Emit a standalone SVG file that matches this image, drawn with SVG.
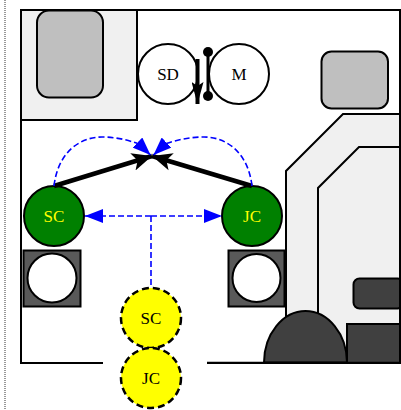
<svg xmlns="http://www.w3.org/2000/svg" width="401" height="410" viewBox="0 0 401 410">
<style>
text{font-family:"Liberation Serif","Times New Roman",serif;font-size:17px;text-anchor:middle}
.o{fill:none;stroke:#000;stroke-width:2}
.b{fill:#f0f0f0;stroke:#000;stroke-width:2}
.g{fill:#bfbfbf;stroke:#000;stroke-width:2}
.d{fill:#404040;stroke:#000;stroke-width:2}
.s{fill:#595959;stroke:#000;stroke-width:2}
.w{fill:#fff;stroke:#000;stroke-width:2}
.gr{fill:#008000;stroke:#000;stroke-width:2}
.y{fill:#ff0;stroke:#000;stroke-width:2.5;stroke-dasharray:7 4}
.bl{fill:none;stroke:#00f;stroke-width:1.6;stroke-dasharray:6 3}
.k{fill:none;stroke:#000;stroke-width:4.500}
</style>
<defs>
<marker id="ab" viewBox="0 0 18 14" refX="18" refY="7" markerWidth="18" markerHeight="14" markerUnits="userSpaceOnUse" orient="auto"><path d="M0 0L18 7L0 14Z" fill="#00f"/></marker>
<marker id="ak" viewBox="0 0 20 20" refX="20" refY="10" markerWidth="20" markerHeight="20" markerUnits="userSpaceOnUse" orient="auto"><path d="M0 1L20 10L0 19L5 10Z" fill="#000"/></marker>
<marker id="an" viewBox="0 0 22 12" refX="22" refY="6" markerWidth="22" markerHeight="12" markerUnits="userSpaceOnUse" orient="auto"><path d="M0 0L22 6L0 12L4 6Z" fill="#000"/></marker>
</defs>
<line x1="5" y1="0" x2="5" y2="410" stroke="#333" stroke-width="1" stroke-dasharray="1 1"/>
<g id="room">
<path class="o" d="M103 363H21V10H400V363H207"/>
</g>
<g id="cabinet-top-left">
<rect class="b" x="21" y="10" width="116" height="110"/>
<rect class="g" x="37" y="10.500" width="66" height="87" rx="12"/>
</g>
<g id="cabinet-right"><rect class="g" x="321.500" y="51.500" width="66.500" height="57" rx="10"/></g>
<g id="wall-right">
<path class="b" d="M400 114H343L286 171V363H400Z"/>
<path class="b" d="M400 147H359L318 188V363H400Z"/>
<rect class="d" x="353.500" y="278.500" width="50" height="30" rx="6"/>
<path fill="#404040" d="M347 324H400V363H347Z"/>
<path class="o" d="M347 363V324H400"/>
<path class="d" d="M264 362.500C264 334 283 311 305.500 311S347 334 347 362.500Z"/>
<path class="o" d="M207 362.800H400M400 10V363"/>
</g>
<g id="node-sd"><circle class="w" cx="168" cy="74" r="30"/><text x="168" y="80">SD</text></g>
<g id="node-m"><circle class="w" cx="239" cy="74" r="30"/><text x="239" y="80">M</text></g>
<g id="sq-left"><rect class="s" x="23.500" y="250.500" width="57" height="56"/><circle class="w" cx="52" cy="278" r="24.500"/></g>
<g id="sq-right"><rect class="s" x="228.500" y="250.500" width="56" height="56"/><circle class="w" cx="256.500" cy="278" r="24"/></g>
<g id="node-sc-green"><circle class="gr" cx="54" cy="216" r="30"/><text x="54" y="222" fill="#ff0">SC</text></g>
<g id="node-jc-green"><circle class="gr" cx="252" cy="216" r="30"/><text x="252" y="222" fill="#ff0">JC</text></g>
<g id="node-sc-yellow"><circle class="y" cx="151" cy="318" r="30"/><text x="151" y="324">SC</text></g>
<g id="node-jc-yellow"><circle class="y" cx="151" cy="378" r="30"/><text x="151" y="384">JC</text></g>
<g id="connectors">
<path class="k" d="M54 186L152 156" marker-end="url(#ak)"/>
<path class="k" d="M252 186L152 156" marker-end="url(#ak)"/>
<path class="bl" d="M54 186C58 152 80 137 102 137C116 137 128 140 139 144L150.500 155" marker-end="url(#ab)"/>
<path class="bl" d="M252 186C248 152 226 137 204 137C190 137 176 140 165 144L153.500 155" marker-end="url(#ab)"/>
<path class="bl" d="M151 216H85" marker-end="url(#ab)"/>
<path class="bl" d="M151 216H222" marker-end="url(#ab)"/>
<path class="bl" d="M151 216V288"/>
<path fill="none" stroke="#000" stroke-width="4" d="M197.500 59V104" marker-end="url(#an)"/>
<path fill="none" stroke="#000" stroke-width="3" d="M208 52V96"/>
<circle cx="208" cy="52" r="5"/>
<circle cx="208" cy="96" r="5"/>
</g>
</svg>
